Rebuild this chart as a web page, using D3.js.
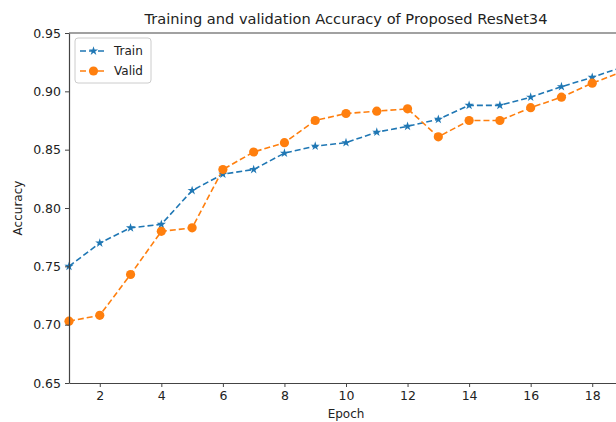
<!DOCTYPE html>
<html><head><meta charset="utf-8">
<script src="https://cdn.jsdelivr.net/npm/d3@7"></script>
<style>body{margin:0;background:#fff}svg{display:block}text{font-family:"DejaVu Sans",sans-serif;fill:#222}</style>
</head><body><svg id="c" width="616" height="422"></svg>
<script>
const epochs = [1,2,3,4,5,6,7,8,9,10,11,12,13,14,15,16,17,18,19];
const train = [0.750,0.770,0.783,0.786,0.815,0.829,0.833,0.847,0.853,0.856,0.865,0.870,0.876,0.888,0.888,0.895,0.904,0.912,0.921];
const valid = [0.703,0.708,0.743,0.780,0.783,0.833,0.848,0.856,0.875,0.881,0.883,0.885,0.861,0.875,0.875,0.886,0.895,0.907,0.917];
const xTicks = [2,4,6,8,10,12,14,16,18];
const yTicks = [0.65,0.70,0.75,0.80,0.85,0.90,0.95];
const seriesNames = ["Train","Valid"];
const title = "Training and validation Accuracy of Proposed ResNet34";

const svg = d3.select("#c");
const L=69, R=623, T=33, B=383;
const x = d3.scaleLinear().domain([1,19]).range([L,R]);
const y = d3.scaleLinear().domain([0.65,0.95]).range([B,T]);
const cT="#1f77b4", cV="#ff7f0e";

const line = d3.line().x((d,i)=>x(epochs[i])).y(d=>y(d));
const g = svg.append("g");
g.append("path").attr("d",line(train)).attr("fill","none").attr("stroke",cT).attr("stroke-width",1.6).attr("stroke-dasharray","6,3");
g.append("path").attr("d",line(valid)).attr("fill","none").attr("stroke",cV).attr("stroke-width",1.6).attr("stroke-dasharray","6,3");
const star = d3.symbol().type(d3.symbolStar).size(26);
g.selectAll(".st").data(train).join("path").attr("d",star).attr("transform",(d,i)=>`translate(${x(epochs[i])},${y(d)})`).attr("fill",cT);
g.selectAll(".ci").data(valid).join("circle").attr("cx",(d,i)=>x(epochs[i])).attr("cy",d=>y(d)).attr("r",4.6).attr("fill",cV);

// axes
const xa = svg.append("g").attr("transform",`translate(0,${B})`).call(d3.axisBottom(x).tickValues(xTicks).tickSize(4).tickSizeOuter(0).tickPadding(4));
const ya = svg.append("g").attr("transform",`translate(${L},0)`).call(d3.axisLeft(y).tickValues(yTicks).tickFormat(d3.format(".2f")).tickSize(4).tickSizeOuter(0).tickPadding(4));
[xa,ya].forEach(a=>{a.select(".domain").attr("stroke","#444").attr("stroke-width",1.2);a.selectAll(".tick line").attr("stroke","#444");a.selectAll("text").attr("font-size",12.5).attr("fill","#222").attr("font-family","DejaVu Sans");});
svg.append("line").attr("x1",L).attr("x2",R).attr("y1",T).attr("y2",T).attr("stroke","#444").attr("stroke-width",1.2);
svg.append("line").attr("x1",R).attr("x2",R).attr("y1",T).attr("y2",B).attr("stroke","#444").attr("stroke-width",1.2);

svg.append("text").attr("x",(L+R)/2).attr("y",24).attr("text-anchor","middle").attr("font-size",14.6).text(title);
svg.append("text").attr("x",(L+R)/2).attr("y",418).attr("text-anchor","middle").attr("font-size",12).text("Epoch");
svg.append("text").attr("transform",`translate(22,${(T+B)/2}) rotate(-90)`).attr("text-anchor","middle").attr("font-size",12).text("Accuracy");

// legend
const lg = svg.append("g").attr("transform","translate(75,38)");
lg.append("rect").attr("width",76).attr("height",45).attr("rx",3).attr("fill","#fff").attr("stroke","#ccc");
const cols=[cT,cV];
seriesNames.forEach((n,i)=>{
  const yy=13+i*20;
  lg.append("line").attr("x1",5).attr("x2",32).attr("y1",yy).attr("y2",yy).attr("stroke",cols[i]).attr("stroke-width",1.6).attr("stroke-dasharray","6,3");
  if(i===0) lg.append("path").attr("d",star).attr("transform",`translate(18.5,${yy})`).attr("fill",cT);
  else lg.append("circle").attr("cx",18.5).attr("cy",yy).attr("r",4.6).attr("fill",cV);
  lg.append("text").attr("x",39).attr("y",yy+4).attr("font-size",12).text(n);
});
</script></body></html>
